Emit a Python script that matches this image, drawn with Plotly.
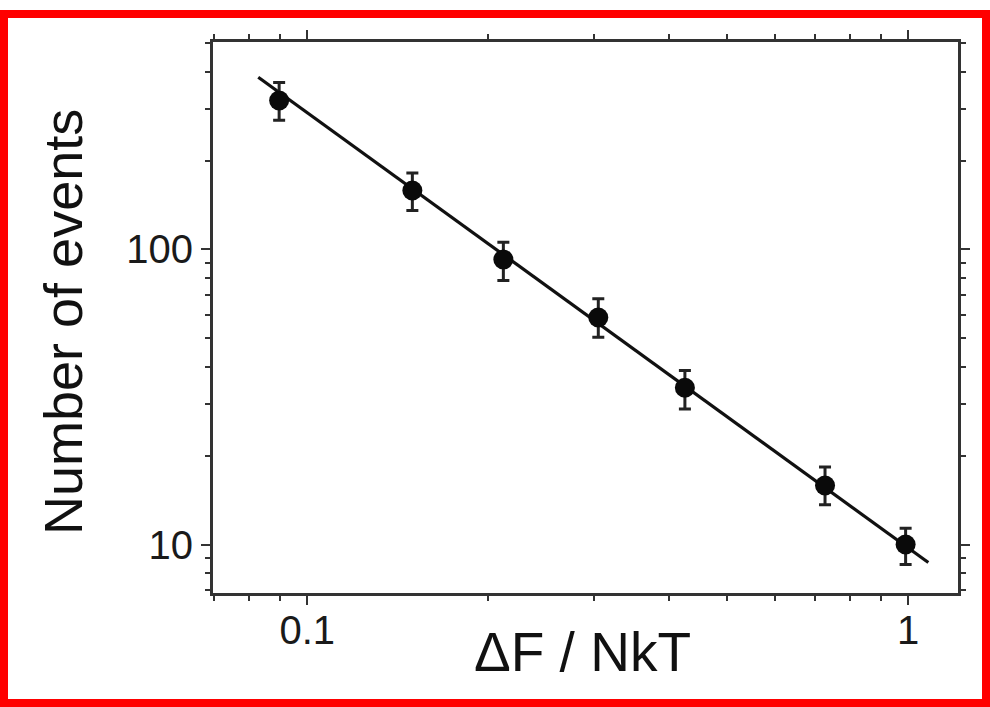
import plotly.graph_objects as go
import math

# Data
dF_NkT = [0.0898, 0.1496, 0.212, 0.305, 0.425, 0.727, 0.99]
n_events = [320, 158.5, 92.5, 58.8, 34.0, 15.85, 10.0]
err_plus = [48, 23, 13.4, 9.3, 4.9, 2.45, 1.36]
err_minus = [46, 23, 14, 8.4, 5.2, 2.2, 1.45]

# fitted power-law line endpoints
fit_x = [0.0829, 1.08]
fit_y = [383.7, 8.69]

x_major = [0.1, 1]
x_major_text = ["0.1", "1"]
x_minor = [0.07, 0.08, 0.09, 0.2, 0.3, 0.4, 0.5, 0.6, 0.7, 0.8, 0.9]
y_major = [10, 100]
y_major_text = ["10", "100"]
y_minor = [7, 8, 9, 20, 30, 40, 50, 60, 70, 80, 90, 200, 300, 400, 500]

W, H = 990, 707
L, R, T, B = 213, 32, 42, 114
pw, ph = W - L - R, H - T - B

def px(x):
    return (x - L) / pw

def py(y):
    return (H - B - y) / ph

font_family = "Liberation Sans, Arial, sans-serif"

fig = go.Figure()
fig.add_trace(go.Scatter(
    x=fit_x, y=fit_y, mode="lines",
    line=dict(color="#111111", width=3.2),
    showlegend=False, hoverinfo="skip"))
fig.add_trace(go.Scatter(
    x=dF_NkT, y=n_events, mode="markers",
    marker=dict(color="#0a0a0a", size=20, line=dict(width=0)),
    error_y=dict(type="data", symmetric=False, array=err_plus, arrayminus=err_minus,
                 color="#222222", thickness=3, width=6),
    showlegend=False))

axis_common = dict(
    showline=True, linecolor="#333333", linewidth=3, mirror="allticks",
    ticks="outside", ticklen=9, tickwidth=2, tickcolor="#333333",
    showgrid=False, zeroline=False,
    tickfont=dict(family=font_family, size=40, color="#1a1a1a"),
)

fig.update_xaxes(
    type="log", range=[math.log10(0.0697), math.log10(1.21)],
    tickmode="array", tickvals=x_major, ticktext=x_major_text,
    ticklabelstandoff=-9,
    minor=dict(tickmode="array", tickvals=x_minor, ticks="outside", ticklen=5,
               tickwidth=2, tickcolor="#333333", showgrid=False),
    **axis_common)
fig.update_yaxes(
    type="log", range=[math.log10(6.85), math.log10(505)],
    tickmode="array", tickvals=y_major, ticktext=y_major_text,
    minor=dict(tickmode="array", tickvals=y_minor, ticks="outside", ticklen=5,
               tickwidth=2, tickcolor="#333333", showgrid=False),
    **axis_common)

fig.update_layout(
    width=W, height=H,
    margin=dict(l=L, r=R, t=T, b=B, pad=0),
    paper_bgcolor="white", plot_bgcolor="white",
    annotations=[
        dict(text="ΔF / NkT", xref="paper", yref="paper",
             x=px(582), y=py(652), xanchor="center", yanchor="middle",
             showarrow=False, font=dict(family=font_family, size=55, color="#111111")),
        dict(text="Number of events", xref="paper", yref="paper",
             x=px(63), y=py(322), xanchor="center", yanchor="middle", textangle=-90,
             showarrow=False, font=dict(family=font_family, size=54, color="#111111")),
    ],
    shapes=[
        dict(type="rect", xref="paper", yref="paper",
             x0=px(4), x1=px(986), y0=py(703), y1=py(14),
             line=dict(color="#ff0000", width=8), fillcolor="rgba(0,0,0,0)", layer="above"),
    ],
)

fig.write_html("out.html", config={"displayModeBar": False},
               post_script="document.body.style.margin='0';document.body.style.overflow='hidden';")
